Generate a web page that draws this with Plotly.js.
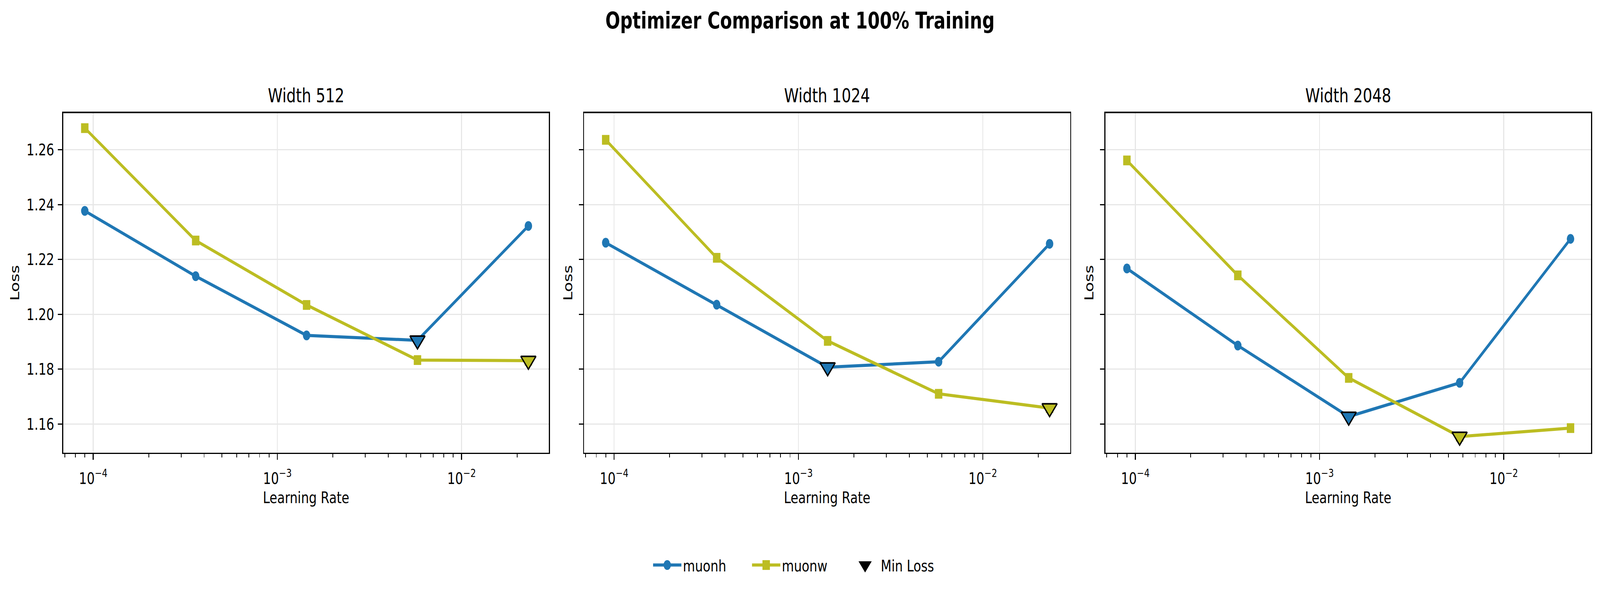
<!DOCTYPE html>
<html>
<head>
<meta charset="utf-8">
<script src="https://cdn.plot.ly/plotly-3.0.1.min.js"></script>
<style>
html,body{margin:0;padding:0;background:#fff;overflow:hidden;}
#wrap{width:5369px;height:1509px;transform-origin:0 0;}
#chart{width:5369px;height:1509px;}
</style>
</head>
<body>
<div id="wrap"><div id="chart"></div></div>
<script>
// ---- data ----
const learningRates = [0.00009, 0.00036, 0.00144, 0.00576, 0.02304];
const panelTitles = ['Width 512', 'Width 1024', 'Width 2048'];
const muonh512  = [1.2377, 1.2139, 1.1923, 1.1905, 1.2322];
const muonw512  = [1.2679, 1.2269, 1.2034, 1.1833, 1.1831];
const muonh1024 = [1.2261, 1.2035, 1.1807, 1.1827, 1.2257];
const muonw1024 = [1.2636, 1.2206, 1.1903, 1.1710, 1.1658];
const muonh2048 = [1.2167, 1.1886, 1.1627, 1.1750, 1.2275];
const muonw2048 = [1.2561, 1.2142, 1.1768, 1.1554, 1.1585];
const yTickVals = [1.16, 1.18, 1.20, 1.22, 1.24, 1.26];
const xTickVals = [1e-4, 1e-3, 1e-2];
const xTickText = ['10<sup>\u22124</sup>', '10<sup>\u22123</sup>', '10<sup>\u22122</sup>'];

const seriesH = [muonh512, muonh1024, muonh2048];
const seriesW = [muonw512, muonw1024, muonw2048];
const COL_H = '#1f77b4', COL_W = '#bcbd22';
const FONT = 'DejaVu Sans';
const FS = 41.7;
const W = 5369, H = 1509;

// the browser viewport may be narrower than the requested picture: fit the figure to it
const vw = window.innerWidth || W, vh = window.innerHeight || H;
document.getElementById('wrap').style.transform = 'scale(' + (vw / W) + ',' + (vh / H) + ')';

function argmin(a){let k=0;for(let i=1;i<a.length;i++) if(a[i]<a[k]) k=i;return k;}

const minorVals = [];
for (let e=-5;e<=-2;e++) for (let m=2;m<=9;m++) minorVals.push(m*Math.pow(10,e));

const traces = [];
const domainsX = [[212/W, 1842/W],[1960/W, 3591/W],[3709/W, 5339/W]];
const domY = [1-1160/H, 1-289.5/H];
const layout = {
  width: W, height: H,
  margin: {l:0, r:0, t:0, b:0},
  paper_bgcolor: '#fff', plot_bgcolor: '#fff',
  font: {family: FONT, size: FS, color: '#000'},
  showlegend: true,
  title: {text: 'Optimizer Comparison at 100% Training', x: 0.5, xanchor: 'center', y: 1-53/H, yanchor: 'middle',
          font: {family: FONT, size: 58.3, weight: 'bold', color: '#000'}},
  legend: {orientation: 'h', x: 0.5, xanchor: 'center', y: 1-1448/H, yanchor: 'middle',
           font: {family: FONT, size: FS, color: '#000'}, itemwidth: 95, entrywidth: 222, entrywidthmode: 'pixels',
           bgcolor: 'rgba(0,0,0,0)'},
  annotations: []
};

for (let p=0;p<3;p++){
  const xa = p===0 ? 'x' : 'x'+(p+1);
  const ya = p===0 ? 'y' : 'y'+(p+1);
  const h = seriesH[p], w = seriesW[p];
  traces.push({x: learningRates, y: h, xaxis: xa, yaxis: ya, type: 'scatter', mode: 'lines+markers', name: 'muonh',
    legendgroup: 'muonh', showlegend: p===0, line: {color: COL_H, width: 8}, marker: {symbol: 'circle', size: 25, color: COL_H}});
  traces.push({x: learningRates, y: w, xaxis: xa, yaxis: ya, type: 'scatter', mode: 'lines+markers', name: 'muonw',
    legendgroup: 'muonw', showlegend: p===0, line: {color: COL_W, width: 8}, marker: {symbol: 'square', size: 25, color: COL_W}});
  const ih = argmin(h), iw = argmin(w);
  traces.push({x: [learningRates[ih], learningRates[iw]], y: [h[ih], w[iw]], xaxis: xa, yaxis: ya, type: 'scatter', mode: 'markers',
    name: 'Min Loss', legendgroup: 'min', showlegend: false,
    marker: {symbol: 'triangle-down', size: 44, color: [COL_H, COL_W], line: {color: '#000', width: 4}}});

  const axCommon = {showline: true, mirror: true, linecolor: '#000', linewidth: 3.3, ticks: 'outside', ticklen: 14.6,
    tickwidth: 3.3, tickcolor: '#000', showgrid: true, gridcolor: '#e7e7e7', gridwidth: 3.3, zeroline: false,
    tickfont: {family: FONT, size: FS, color: '#000'}};
  layout['xaxis'+(p===0?'':p+1)] = Object.assign({}, axCommon, {
    type: 'log', domain: domainsX[p], anchor: ya, range: [-4.163, -1.526],
    tickmode: 'array', tickvals: xTickVals, ticktext: xTickText, ticklabelstandoff: 12,
    minor: {tickmode: 'array', tickvals: minorVals, ticks: 'outside', ticklen: 8.3, tickwidth: 2.5, tickcolor: '#000', showgrid: false},
    title: {text: 'Learning Rate', standoff: 8, font: {family: FONT, size: FS, color: '#000'}}
  });
  layout['yaxis'+(p===0?'':p+1)] = Object.assign({}, axCommon, {
    domain: domY, anchor: xa, range: [1.1495, 1.2734], tickmode: 'array', tickvals: yTickVals,
    ticktext: yTickVals.map(v=>v.toFixed(2)), showticklabels: p===0, ticklabelstandoff: 4,
    title: {text: 'Loss', standoff: p===0 ? 12 : 9, font: {family: FONT, size: FS, color: '#000'}}
  });
  layout.annotations.push({text: panelTitles[p], xref: 'paper', yref: 'paper', x: (domainsX[p][0]+domainsX[p][1])/2,
    y: 1-245/H, xanchor: 'center', yanchor: 'middle', showarrow: false, font: {family: FONT, size: 50, color: '#000'}});
}
traces.push({x: [null], y: [null], type: 'scatter', mode: 'markers', name: 'Min Loss', legendgroup: 'min', showlegend: true,
  marker: {symbol: 'triangle-down', size: 44, color: '#000'}});

Plotly.newPlot('chart', traces, layout, {staticPlot: true, displayModeBar: false}).then(function(gd){
  // legend symbols: plotly caps their size, enlarge them to the figure's marker size
  gd.querySelectorAll('.legend .traces').forEach(function(tr, i){
    tr.querySelectorAll('.legendlines path').forEach(function(pth){ pth.style.strokeWidth = '8px'; });
    const k = (i === 2) ? 2.4 : 25/16;
    tr.querySelectorAll('.legendpoints path.scatterpts').forEach(function(pth){
      const t = pth.getAttribute('transform') || '';
      pth.setAttribute('transform', t + ' scale(' + k + ')');
    });
  });
});
</script>
</body>
</html>
